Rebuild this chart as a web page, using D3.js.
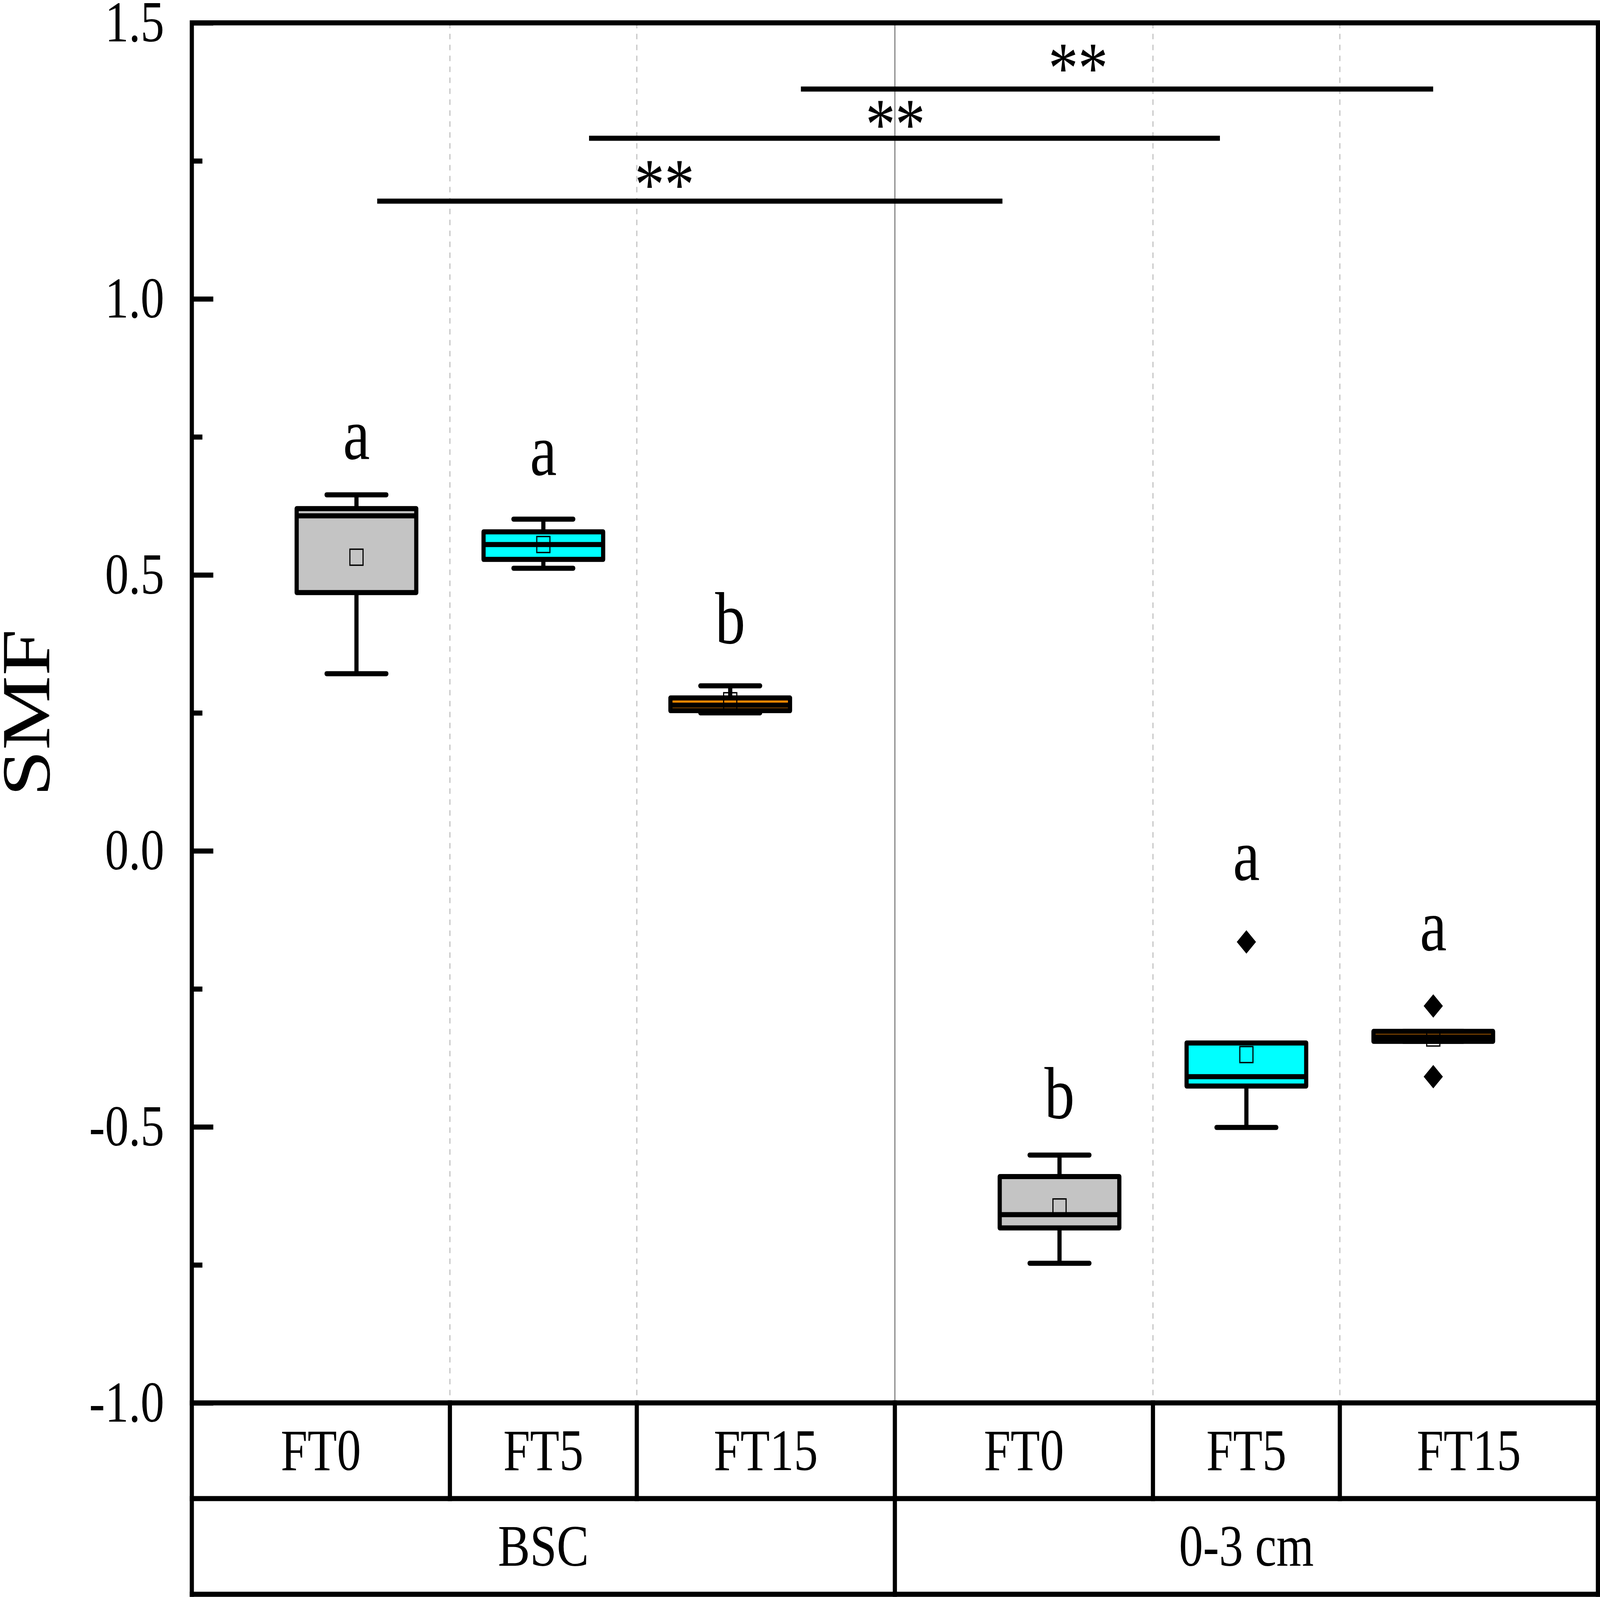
<!DOCTYPE html>
<html><head><meta charset="utf-8">
<script src="https://cdn.jsdelivr.net/npm/d3@7"></script>
<style>html,body{margin:0;padding:0;background:#fff;overflow:hidden;width:100%;height:100%;} svg{display:block;width:100vw;height:100vh;}</style>
</head><body>
<svg id="chart" viewBox="0 0 4992 4089" preserveAspectRatio="none"></svg>
<script>
// ---------------- DATA ----------------
const groups = ["BSC", "0-3 cm"];
const treatments = ["FT0", "FT5", "FT15"];
// [lower whisker, Q1, median, Q3, upper whisker]
const bscStats = [
  [0.321, 0.468, 0.607, 0.620, 0.645],
  [0.512, 0.528, 0.555, 0.578, 0.601],
  [0.250, 0.254, 0.264, 0.277, 0.299]
];
const soilStats = [
  [-0.747, -0.683, -0.659, -0.590, -0.551],
  [-0.501, -0.426, -0.409, -0.348, -0.348],
  [-0.345, -0.345, -0.337, -0.327, -0.327]
];
const bscMeans = [0.532, 0.555, 0.272];
const soilMeans = [-0.645, -0.369, -0.339];
const bscOutliers = [[], [], []];
const soilOutliers = [[], [-0.165], [-0.281, -0.409]];
const bscLetters = ["a", "a", "b"];
const soilLetters = ["b", "a", "a"];
const bscLetterY = [0.710, 0.681, 0.376];
const soilLetterY = [-0.484, -0.053, -0.180];
const yTicksMajor = [-1.0, -0.5, 0.0, 0.5, 1.0, 1.5];
const yTicksMinor = [-0.75, -0.25, 0.25, 0.75, 1.25];
const yTitle = "SMF";
// significance brackets (x on a 0-6 span across the plot, 3 per group)
const bracketFrom = [0.791, 1.695, 2.599];
const bracketTo = [3.459, 4.387, 5.297];
const bracketY = [1.177, 1.291, 1.380];
const bracketLabel = ["**", "**", "**"];
const starX = [2.017, 3.002, 3.782];
const starY = [1.163, 1.272, 1.374];

// ---------------- STYLE / LAYOUT ----------------
const fillColors = ["#c4c4c4", "#00ffff", "#ff8800"];
const FONT = "'Liberation Serif','Times New Roman',Times,serif";
const X0 = 598.5, X1 = 4985.5, Y0 = 58.5, Y1 = 3592, R1 = 3837, R2 = 4082;
const LW = 13;

const svg = d3.select("#chart");
svg.append("rect").attr("width", 4992).attr("height", 4089).attr("fill", "#fff");

const y = d3.scaleLinear().domain([-1, 1.5]).range([Y1, Y0]);
const gx = d3.scaleBand().domain(groups).range([X0, X1]);
const tx = d3.scaleBand().domain(treatments).range([0, gx.bandwidth()]).paddingOuter(0.381).paddingInner(0);
const xLin = d3.scaleLinear().domain([0, 6]).range([X0, X1]);

const records = [];
groups.forEach((g, gi) => {
  treatments.forEach((t, ti) => {
    const s = gi === 0 ? bscStats[ti] : soilStats[ti];
    records.push({
      g, t, ti,
      lo: s[0], q1: s[1], med: s[2], q3: s[3], hi: s[4],
      mean: gi === 0 ? bscMeans[ti] : soilMeans[ti],
      out: gi === 0 ? bscOutliers[ti] : soilOutliers[ti],
      letter: gi === 0 ? bscLetters[ti] : soilLetters[ti],
      letterY: gi === 0 ? bscLetterY[ti] : soilLetterY[ti],
      cx: gx(g) + tx(t) + tx.bandwidth() / 2
    });
  });
});

// gridlines (dashed) at treatment boundaries
const gridXs = [];
groups.forEach(g => treatments.slice(1).forEach(t => gridXs.push(gx(g) + tx(t))));
svg.append("g").selectAll("line").data(gridXs).join("line")
  .attr("x1", d => d).attr("x2", d => d).attr("y1", Y0).attr("y2", Y1)
  .attr("stroke", "#c8c8c8").attr("stroke-width", 4).attr("stroke-dasharray", "14,14");

// group separator
svg.append("line")
  .attr("x1", gx(groups[1])).attr("x2", gx(groups[1])).attr("y1", Y0).attr("y2", Y1)
  .attr("stroke", "#8c8c8c").attr("stroke-width", 4);

// brackets
svg.append("g").selectAll("line").data(bracketFrom).join("line")
  .attr("x1", (d) => xLin(d)).attr("x2", (d, i) => xLin(bracketTo[i]))
  .attr("y1", (d, i) => y(bracketY[i])).attr("y2", (d, i) => y(bracketY[i]))
  .attr("stroke", "#000").attr("stroke-width", LW);
svg.append("g").selectAll("text").data(bracketLabel).join("text")
  .attr("x", (d, i) => xLin(starX[i])).attr("y", (d, i) => y(starY[i]))
  .attr("text-anchor", "middle").attr("font-family", FONT).attr("font-size", 186)
  .text(d => d);

// boxes
const bw = tx.bandwidth() * 0.64;
const capW = tx.bandwidth() * 0.32;
const box = svg.append("g").selectAll("g").data(records).join("g");
box.append("line").attr("x1", d => d.cx).attr("x2", d => d.cx)
  .attr("y1", d => y(d.lo)).attr("y2", d => y(d.q1)).attr("stroke", "#000").attr("stroke-width", LW);
box.append("line").attr("x1", d => d.cx).attr("x2", d => d.cx)
  .attr("y1", d => y(d.q3)).attr("y2", d => y(d.hi)).attr("stroke", "#000").attr("stroke-width", LW);
box.append("line").attr("x1", d => d.cx - capW / 2).attr("x2", d => d.cx + capW / 2)
  .attr("y1", d => y(d.lo)).attr("y2", d => y(d.lo)).attr("stroke", "#000").attr("stroke-width", LW).attr("stroke-linecap", "round");
box.append("line").attr("x1", d => d.cx - capW / 2).attr("x2", d => d.cx + capW / 2)
  .attr("y1", d => y(d.hi)).attr("y2", d => y(d.hi)).attr("stroke", "#000").attr("stroke-width", LW).attr("stroke-linecap", "round");
box.append("rect").attr("x", d => d.cx - bw / 2).attr("width", bw)
  .attr("y", d => y(d.q3)).attr("height", d => y(d.q1) - y(d.q3))
  .attr("fill", d => fillColors[d.ti]).attr("stroke", "#000").attr("stroke-width", LW).attr("stroke-linejoin", "round");
box.append("line").attr("x1", d => d.cx - bw / 2).attr("x2", d => d.cx + bw / 2)
  .attr("y1", d => y(d.med)).attr("y2", d => y(d.med)).attr("stroke", "#000").attr("stroke-width", LW);
box.append("rect").attr("x", d => d.cx - 20.5).attr("y", d => y(d.mean) - 20.5)
  .attr("width", 41).attr("height", 41).attr("fill", "none").attr("stroke", "#000").attr("stroke-width", 3.5);
const diamond = d3.symbol(d3.symbolSquare, 1800);
box.each(function (d) {
  d3.select(this).selectAll("path.out").data(d.out).join("path").attr("class", "out")
    .attr("d", diamond)
    .attr("transform", v => `translate(${d.cx},${y(v)}) rotate(45)`)
    .attr("fill", "#000");
});
box.append("text").attr("x", d => d.cx).attr("y", d => y(d.letterY))
  .attr("text-anchor", "middle").attr("font-family", FONT).attr("font-size", 188)
  .text(d => d.letter);

// frame
svg.append("rect").attr("x", X0).attr("y", Y0).attr("width", X1 - X0).attr("height", Y1 - Y0)
  .attr("fill", "none").attr("stroke", "#000").attr("stroke-width", LW).attr("stroke-linejoin", "miter");

// y axis
const axMajor = d3.axisLeft(y).tickValues(yTicksMajor).tickSize(-67).tickPadding(86).tickFormat(d => d.toFixed(1));
const axMinor = d3.axisLeft(y).tickValues(yTicksMinor).tickSize(-33).tickFormat("");
const gMaj = svg.append("g").attr("transform", `translate(${X0},0)`).call(axMajor);
const gMin = svg.append("g").attr("transform", `translate(${X0},0)`).call(axMinor);
[gMaj, gMin].forEach(g => {
  g.select(".domain").remove();
  g.selectAll(".tick line").attr("stroke", "#000").attr("stroke-width", LW);
});
gMaj.selectAll(".tick text").attr("font-family", FONT).attr("font-size", 148).attr("fill", "#000").attr("dy", "0.32em");
svg.append("text").attr("transform", `translate(154,${(Y0 + Y1) / 2}) rotate(-90)`)
  .attr("text-anchor", "middle").attr("font-family", FONT).attr("font-size", 214).text(yTitle);

// category table
const tbl = svg.append("g").attr("stroke", "#000").attr("stroke-width", LW).attr("stroke-linecap", "square");
[R1, R2].forEach(r => tbl.append("line").attr("x1", X0).attr("x2", X1).attr("y1", r).attr("y2", r));
[X0, X1].forEach(x => tbl.append("line").attr("x1", x).attr("x2", x).attr("y1", Y1).attr("y2", R2));
const row1Div = gridXs.concat([gx(groups[1])]);
row1Div.forEach(x => tbl.append("line").attr("x1", x).attr("x2", x).attr("y1", Y1).attr("y2", R1));
tbl.append("line").attr("x1", gx(groups[1])).attr("x2", gx(groups[1])).attr("y1", R1).attr("y2", R2);

const cells = [];
groups.forEach(g => treatments.forEach((t, ti) => {
  const a = gx(g) + (ti === 0 ? 0 : tx(t));
  const b = gx(g) + (ti === treatments.length - 1 ? gx.bandwidth() : tx(t) + tx.step());
  cells.push({ t, c: (a + b) / 2 });
}));
svg.append("g").selectAll("text").data(cells).join("text")
  .attr("x", d => d.c).attr("y", (Y1 + R1) / 2 + 50)
  .attr("text-anchor", "middle").attr("font-family", FONT).attr("font-size", 150).text(d => d.t);
svg.append("g").selectAll("text").data(groups).join("text")
  .attr("x", d => gx(d) + gx.bandwidth() / 2).attr("y", (R1 + R2) / 2 + 50)
  .attr("text-anchor", "middle").attr("font-family", FONT).attr("font-size", 150).text(d => d);
</script>
</body></html>
